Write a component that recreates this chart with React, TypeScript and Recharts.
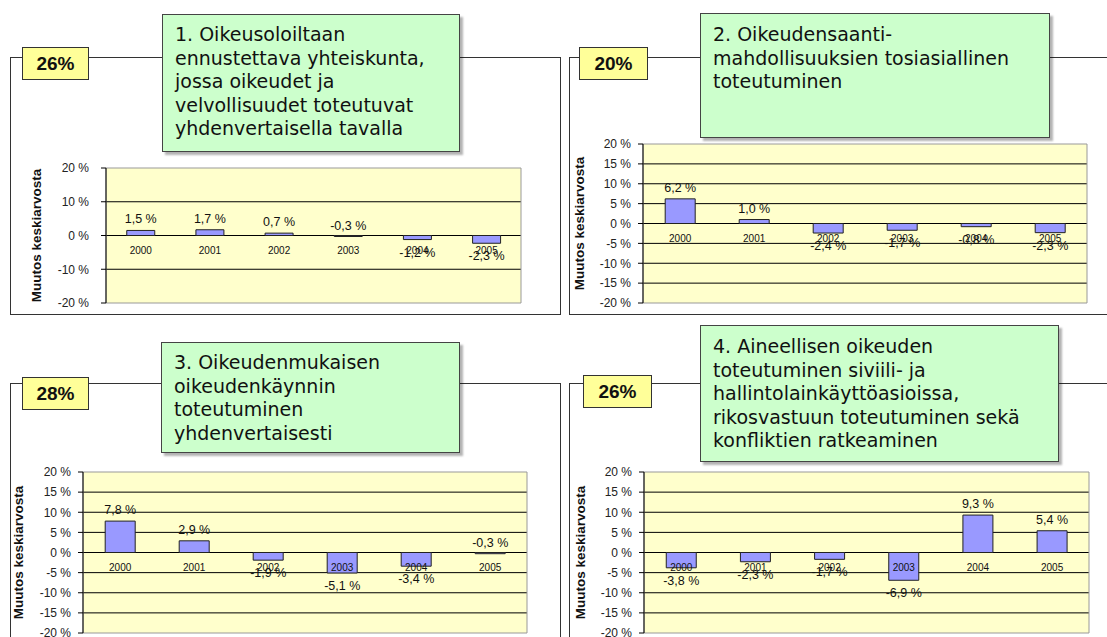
import React from "react";
import { BarChart, Bar, XAxis, YAxis, CartesianGrid, ReferenceArea, LabelList } from "recharts";

const years = ["2000", "2001", "2002", "2003", "2004", "2005"];

const values1 = [1.5, 1.7, 0.7, -0.3, -1.2, -2.3];
const values2 = [6.2, 1.0, -2.4, -1.7, -0.8, -2.3];
const values3 = [7.8, 2.9, -1.9, -5.1, -3.4, -0.3];
const values4 = [-3.8, -2.3, -1.7, -6.9, 9.3, 5.4];

const shares = ["26%", "20%", "28%", "26%"];

const title1 = ["1. Oikeusoloiltaan", "ennustettava yhteiskunta,", "jossa oikeudet ja", "velvollisuudet toteutuvat", "yhdenvertaisella tavalla"];
const title2 = ["2. Oikeudensaanti-", "mahdollisuuksien tosiasiallinen", "toteutuminen"];
const title3 = ["3. Oikeudenmukaisen", "oikeudenkäynnin", "toteutuminen", "yhdenvertaisesti"];
const title4 = ["4. Aineellisen oikeuden", "toteutuminen siviili- ja", "hallintolainkäyttöasioissa,", "rikosvastuun toteutuminen sekä", "konfliktien ratkeaminen"];

const ticksWide = [-20, -10, 0, 10, 20];
const gridWide = [-10, 0, 10];
const ticksFine = [-20, -15, -10, -5, 0, 5, 10, 15, 20];
const gridFine = [-15, -10, -5, 0, 5, 10, 15];

const yTitle = "Muutos keskiarvosta";

const FONT = "Arial, 'Liberation Sans', sans-serif";
const BOX_FONT = "'DejaVu Sans', Verdana, sans-serif";

const fmtPct = (v: number) => `${v.toFixed(1).replace(".", ",")} %`;

type Row = { year: string; v: number };

// year under the zero line, value at the bar end (Excel style)
function makeLabel(rows: Row[]) {
  return (props: any) => {
    const vb = props.viewBox ?? props;
    const row = rows[props.index];
    if (!row || vb == null) return null;
    const { x, y, width, height } = vb;
    const top = Math.min(y, y + height);
    const bottom = Math.max(y, y + height);
    const v = row.v;
    const zero = v >= 0 ? bottom : top;
    const end = v >= 0 ? top : bottom;
    const cx = x + width / 2;
    const ly = v > -0.5 ? end - 11 : end + 13;
    return (
      <g>
        <text x={cx} y={zero + 15} textAnchor="middle" dominantBaseline="central" fontSize={10} fontFamily={FONT} fill="#111">
          {row.year}
        </text>
        <text x={cx} y={ly} textAnchor="middle" dominantBaseline="central" fontSize={12.5} fontFamily={FONT} fill="#111">
          {fmtPct(v)}
        </text>
      </g>
    );
  };
}

interface PanelProps {
  values: number[];
  share: string;
  title: string[];
  ticks: number[];
  grid: number[];
  frame: { left: number; top: number; width: number; height: number };
  badge: { left: number; top: number; width: number; height: number };
  box: { left: number; top: number; width: number; height: number; padTop: number };
  chart: { left: number; top: number; width: number; height: number; yw: number; titleOffset: number; tickGap: number };
}

function Panel({ values, share, title, ticks, grid, frame, badge, box, chart }: PanelProps) {
  const rows: Row[] = years.map((year, i) => ({ year, v: values[i] }));
  return (
    <>
      <div
        style={{
          position: "absolute",
          left: frame.left,
          top: frame.top,
          width: frame.width,
          height: frame.height,
          border: "1px solid #333",
          boxSizing: "border-box",
        }}
      />
      <div style={{ position: "absolute", left: chart.left, top: chart.top }}>
        <BarChart
          width={chart.width}
          height={chart.height}
          data={rows}
          margin={{ top: 10, right: 10, bottom: 10, left: 0 }}
          barCategoryGap="30%"
        >
          <CartesianGrid horizontal vertical={false} horizontalValues={grid} stroke="#000" fill="#FFFFCC" />
          <ReferenceArea y1={-20} y2={20} fill="none" stroke="#999" />
          <XAxis dataKey="year" hide />
          <YAxis
            type="number"
            domain={[-20, 20]}
            ticks={ticks}
            interval={0}
            width={chart.yw}
            tickFormatter={(v: number) => `${v} %`}
            axisLine={{ stroke: "#000" }}
            tickLine={{ stroke: "#000" }}
            tickSize={5}
            tickMargin={chart.tickGap}
            tick={{ fontSize: 12, fill: "#222", fontFamily: FONT }}
            label={{
              value: yTitle,
              angle: -90,
              position: "insideLeft",
              offset: chart.titleOffset,
              style: { textAnchor: "middle", fontWeight: "bold", fontSize: 13.5, fill: "#111", fontFamily: FONT },
            }}
          />
          <Bar dataKey="v" fill="#9999FF" stroke="#222" strokeWidth={1} isAnimationActive={false}>
            <LabelList dataKey="v" content={makeLabel(rows)} />
          </Bar>
        </BarChart>
      </div>
      <div
        style={{
          position: "absolute",
          left: badge.left,
          top: badge.top,
          width: badge.width,
          height: badge.height,
          background: "#FFFF99",
          border: "1px solid #333",
          boxSizing: "border-box",
          display: "flex",
          alignItems: "center",
          justifyContent: "center",
          fontFamily: FONT,
          fontWeight: "bold",
          fontSize: 19,
          color: "#111",
        }}
      >
        {share}
      </div>
      <div
        style={{
          position: "absolute",
          left: box.left,
          top: box.top,
          width: box.width,
          height: box.height,
          background: "#CCFFCC",
          border: "1px solid #444",
          boxSizing: "border-box",
          boxShadow: "3px 3px 2px rgba(0,0,0,0.3)",
          padding: `${box.padTop}px 0 0 12px`,
          fontFamily: BOX_FONT,
          fontSize: 19,
          lineHeight: "23.5px",
          color: "#111",
          whiteSpace: "nowrap",
        }}
      >
        {title.map((line, i) => (
          <div key={i}>{line}</div>
        ))}
      </div>
    </>
  );
}

export default function App() {
  return (
    <div
      style={{
        position: "absolute",
        left: 0,
        top: 0,
        width: 1107,
        height: 637,
        overflow: "hidden",
        background: "#fff",
      }}
    >
      <Panel
        values={values1}
        share={shares[0]}
        title={title1}
        ticks={ticksWide}
        grid={gridWide}
        frame={{ left: 10, top: 57, width: 551, height: 258 }}
        badge={{ left: 22, top: 47, width: 67, height: 33 }}
        box={{ left: 162, top: 14, width: 298, height: 138, padTop: 8 }}
        chart={{ left: 10, top: 158, width: 521, height: 155, yw: 96, titleOffset: 26, tickGap: 12 }}
      />
      <Panel
        values={values2}
        share={shares[1]}
        title={title2}
        ticks={ticksFine}
        grid={gridFine}
        frame={{ left: 569, top: 57, width: 600, height: 258 }}
        badge={{ left: 579, top: 47, width: 69, height: 33 }}
        box={{ left: 700, top: 13, width: 350, height: 125, padTop: 9 }}
        chart={{ left: 569, top: 134, width: 528, height: 179, yw: 74, titleOffset: 10, tickGap: 7 }}
      />
      <Panel
        values={values3}
        share={shares[2]}
        title={title3}
        ticks={ticksFine}
        grid={gridFine}
        frame={{ left: 10, top: 383, width: 551, height: 300 }}
        badge={{ left: 22, top: 377, width: 67, height: 33 }}
        box={{ left: 161, top: 342, width: 299, height: 111, padTop: 8 }}
        chart={{ left: 10, top: 462, width: 527, height: 181, yw: 73, titleOffset: 8, tickGap: 7 }}
      />
      <Panel
        values={values4}
        share={shares[3]}
        title={title4}
        ticks={ticksFine}
        grid={gridFine}
        frame={{ left: 569, top: 383, width: 600, height: 300 }}
        badge={{ left: 583, top: 375, width: 69, height: 33 }}
        box={{ left: 700, top: 325, width: 359, height: 137, padTop: 9 }}
        chart={{ left: 569, top: 462, width: 530, height: 181, yw: 75, titleOffset: 11, tickGap: 7 }}
      />
    </div>
  );
}
